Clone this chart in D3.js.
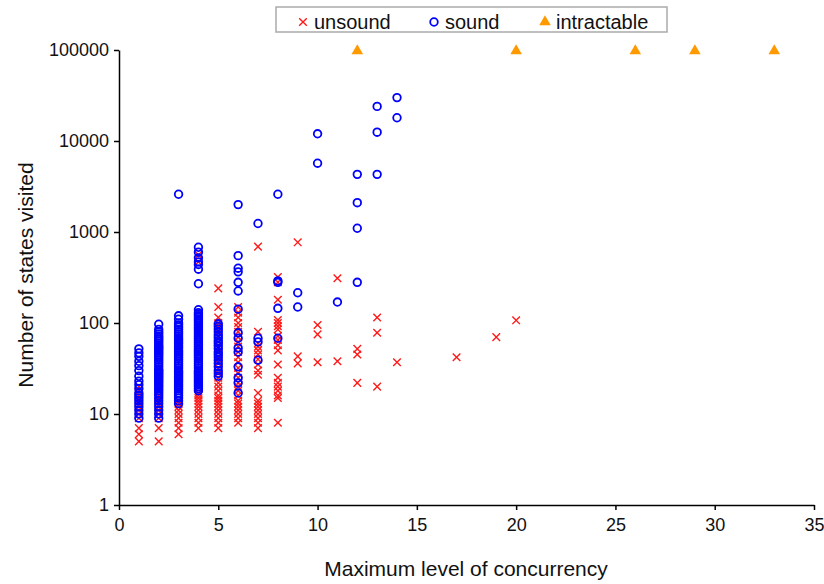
<!DOCTYPE html>
<html>
<head>
<meta charset="utf-8">
<script src="https://cdn.jsdelivr.net/npm/d3@7"></script>
<style>
body { margin: 0; background: #fff; }
text { font-family: "Liberation Sans", Arial, sans-serif; fill: #111; }
</style>
</head>
<body>
<svg width="824" height="584"></svg>
<script>
var levelTicks = [0, 5, 10, 15, 20, 25, 30, 35];
var stateTicks = [1, 10, 100, 1000, 10000, 100000];
var seriesNames = ["unsound", "sound", "intractable"];

// [level, states visited...]
var unsound = [
  [1, [20, 18, 16, 15, 14, 12, 11, 10, 9, 7, 6, 5]],
  [2, [22, 20, 18, 16, 15, 14, 12, 11, 10, 9, 7, 5]],
  [3, [65, 48, 14, 13, 12, 11, 10, 9, 8, 7, 6]],
  [4, [560, 470, 78, 40, 17, 16, 15, 14, 13, 12, 11, 10, 9, 8, 7]],
  [5, [240, 150, 115, 100, 90, 80, 70, 62, 55, 48, 42, 36, 32, 28, 25, 22, 20, 18, 16, 15, 14, 13, 12, 11, 10, 9, 8, 7]],
  [6, [150, 130, 115, 100, 90, 80, 70, 62, 55, 48, 42, 37, 32, 28, 25, 22, 20, 18, 16, 14, 13, 12, 11, 10, 9, 8]],
  [7, [690, 80, 60, 55, 50, 45, 40, 35, 30, 27, 17, 14, 13, 12, 11, 10, 9, 8, 7]],
  [8, [320, 280, 180, 108, 100, 92, 85, 72, 65, 57, 50, 35, 25, 22, 20, 18, 16, 15, 8]],
  [9, [770, 43, 36]],
  [10, [95, 75, 37]],
  [11, [310, 38]],
  [12, [52, 45, 22]],
  [13, [115, 78, 20]],
  [14, [37]],
  [17, [42]],
  [19, [70]],
  [20, [107]]
];

var sound = [
  [1, [52, 47, 43, 38, 34, 30, 26, 23, 21, 19, 17, 16, 15, 14, 13, 12, 11, 10, 9]],
  [2, [97, 85, 80, 76, 72, 69, 66, 63, 60, 57, 55, 53, 51, 49, 47, 45, 43, 41, 39, 37, 35, 33, 31, 30, 29, 28, 27, 26, 25, 24, 23, 22, 21, 20, 19, 18, 17, 16, 15, 14, 13, 12, 11, 10, 9]],
  [3, [2600, 120, 110, 100, 95, 90, 85, 80, 76, 72, 68, 65, 62, 59, 56, 53, 50, 48, 46, 44, 42, 40, 38, 36, 34, 32, 30, 29, 28, 27, 26, 25, 24, 23, 22, 21, 20, 19, 18, 17, 16, 15, 14, 13]],
  [4, [680, 600, 520, 470, 440, 390, 270, 140, 130, 125, 120, 115, 110, 105, 100, 95, 90, 86, 82, 78, 74, 70, 67, 64, 61, 58, 55, 52, 50, 48, 46, 44, 42, 40, 38, 36, 34, 32, 30, 29, 28, 27, 26, 25, 24, 23, 22, 21, 20, 19, 18]],
  [5, [98, 92, 86, 80, 74, 69, 64, 60, 56, 52, 48, 45, 42, 39, 36, 33, 30, 28, 26]],
  [6, [2000, 550, 400, 365, 280, 225, 142, 78, 68, 53, 48, 33, 25, 22, 17]],
  [7, [1240, 68, 62, 39]],
  [8, [2600, 290, 280, 145, 68]],
  [9, [215, 150]],
  [10, [12000, 5700]],
  [11, [170]],
  [12, [4300, 2100, 1100, 280]],
  [13, [24000, 12500, 4300]],
  [14, [30000, 18000]]
];

var intractableLevels = [12, 20, 26, 29, 33];
var intractableStates = [100000, 100000, 100000, 100000, 100000];

function flatten(cols) {
  var out = [];
  cols.forEach(function(c) {
    c[1].forEach(function(v) { out.push({level: c[0], states: v}); });
  });
  return out;
}
var unsoundPts = flatten(unsound);
var soundPts = flatten(sound);
var intractablePts = intractableLevels.map(function(l, i) { return {level: l, states: intractableStates[i]}; });

var svg = d3.select("svg");

var x = d3.scaleLinear().domain([0, 35]).range([119, 814]);
var y = d3.scaleLog().domain([1, 100000]).range([505, 50]);

var xAxis = svg.append("g")
    .attr("transform", "translate(0,505)")
    .call(d3.axisBottom(x).tickValues(levelTicks).tickSize(5).tickSizeOuter(0).tickPadding(6));
var yAxis = svg.append("g")
    .attr("transform", "translate(119,0)")
    .call(d3.axisLeft(y).tickValues(stateTicks).tickFormat(d3.format("d")).tickSize(5).tickSizeOuter(0).tickPadding(5));

[xAxis, yAxis].forEach(function(a) {
  a.selectAll("path, line").attr("stroke", "#000").attr("stroke-width", 1.5);
  a.selectAll("text").style("font-size", "18px").attr("fill", "#111");
});
xAxis.selectAll("text").attr("dy", "0.85em");

svg.append("text")
    .attr("x", 466).attr("y", 576)
    .attr("text-anchor", "middle")
    .style("font-size", "21px").attr("fill", "#222")
    .text("Maximum level of concurrency");

svg.append("text")
    .attr("transform", "translate(33,275) rotate(-90)")
    .attr("text-anchor", "middle")
    .style("font-size", "21px").attr("fill", "#222")
    .text("Number of states visited");

var crossPath = "M-3.8,-3.8L3.8,3.8M-3.8,3.8L3.8,-3.8";
var triPath = d3.symbol(d3.symbolTriangle).size(58)();

svg.append("g").selectAll("path")
  .data(unsoundPts)
  .enter().append("path")
    .attr("transform", function(d) { return "translate(" + x(d.level) + "," + y(d.states) + ")"; })
    .attr("d", crossPath)
    .attr("stroke", "#ff1a1a")
    .attr("stroke-width", 1.4)
    .attr("fill", "none");

svg.append("g").selectAll("circle")
  .data(soundPts)
  .enter().append("circle")
    .attr("cx", function(d) { return x(d.level); })
    .attr("cy", function(d) { return y(d.states); })
    .attr("r", 3.8)
    .attr("stroke", "#0000ff")
    .attr("stroke-width", 1.8)
    .attr("fill", "none");

svg.append("g").selectAll("path")
  .data(intractablePts)
  .enter().append("path")
    .attr("transform", function(d) { return "translate(" + x(d.level) + "," + (y(d.states) + 1) + ")"; })
    .attr("d", triPath)
    .attr("fill", "#ff9900");

// legend
var legend = svg.append("g");
legend.append("rect")
    .attr("x", 276).attr("y", 7).attr("width", 391).attr("height", 25)
    .attr("fill", "#fff").attr("stroke", "#aaa").attr("stroke-width", 1.5);

var lx = [303, 434, 545];
legend.append("path")
    .attr("transform", "translate(" + lx[0] + ",22)")
    .attr("d", crossPath).attr("stroke", "#ff1a1a").attr("stroke-width", 1.4);
legend.append("circle")
    .attr("cx", lx[1]).attr("cy", 22).attr("r", 3.8)
    .attr("stroke", "#0000ff").attr("stroke-width", 1.8).attr("fill", "none");
legend.append("path")
    .attr("transform", "translate(" + lx[2] + ",22)")
    .attr("d", triPath).attr("fill", "#ff9900");

legend.selectAll("text.lbl")
  .data(seriesNames)
  .enter().append("text")
    .attr("class", "lbl")
    .attr("x", function(d, i) { return lx[i] + 11; })
    .attr("y", 29)
    .style("font-size", "20px")
    .text(function(d) { return d; });
</script>
</body>
</html>
